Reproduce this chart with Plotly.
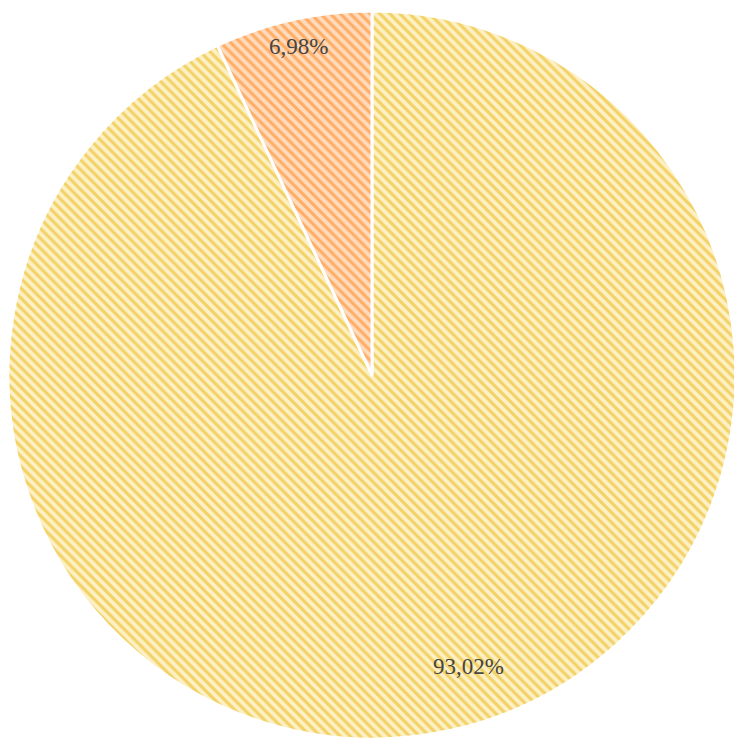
import math
import plotly.graph_objects as go

labels = ['A', 'B']
values = [93.02, 6.98]
fg_colors = ['#e8b40a', '#ff800e']
bg_colors = ['#fdf0c4', '#ffdbbd']

# label placement (style): fraction of radius and angular nudge in degrees
label_radius = [0.842, 0.925]
label_nudge = [-5.7, 0.0]

# the page body adds 8px of margin, so keep the figure inside the window
W, H = 734, 737
R = 364
dom_x = [0, 2 * R / W]
dom_y = [1 - (3 + 2 * R) / H, 1 - 3 / H]

fig = go.Figure(go.Pie(
    labels=labels,
    values=values,
    sort=False,
    direction='clockwise',
    rotation=0,
    textinfo='none',
    domain=dict(x=dom_x, y=dom_y),
    marker=dict(
        colors=bg_colors,
        line=dict(color='white', width=3),
        pattern=dict(shape='\\', fgcolor=fg_colors, bgcolor=bg_colors,
                     size=7, solidity=0.45, fillmode='overlay'),
    ),
    showlegend=False,
))

# labels at the mid-angle of each slice
cx = (dom_x[0] + dom_x[1]) / 2 * W
cy = (1 - (dom_y[0] + dom_y[1]) / 2) * H
total = sum(values)
start = 0.0
for v, f, nd in zip(values, label_radius, label_nudge):
    mid = (start + v / 2) / total * 2 * math.pi + math.radians(nd)
    start += v
    x = cx + f * R * math.sin(mid)
    y = cy - f * R * math.cos(mid)
    fig.add_annotation(
        x=x / W, y=1 - y / H, xref='paper', yref='paper',
        xanchor='center', yanchor='middle',
        text=f'{v:.2f}%'.replace('.', ','), showarrow=False,
        font=dict(family='Liberation Serif', size=23, color='#454545'),
    )

fig.update_layout(
    width=W, height=H,
    margin=dict(l=0, r=0, t=0, b=0),
    paper_bgcolor='white',
)

fig.write_html('out.html')
